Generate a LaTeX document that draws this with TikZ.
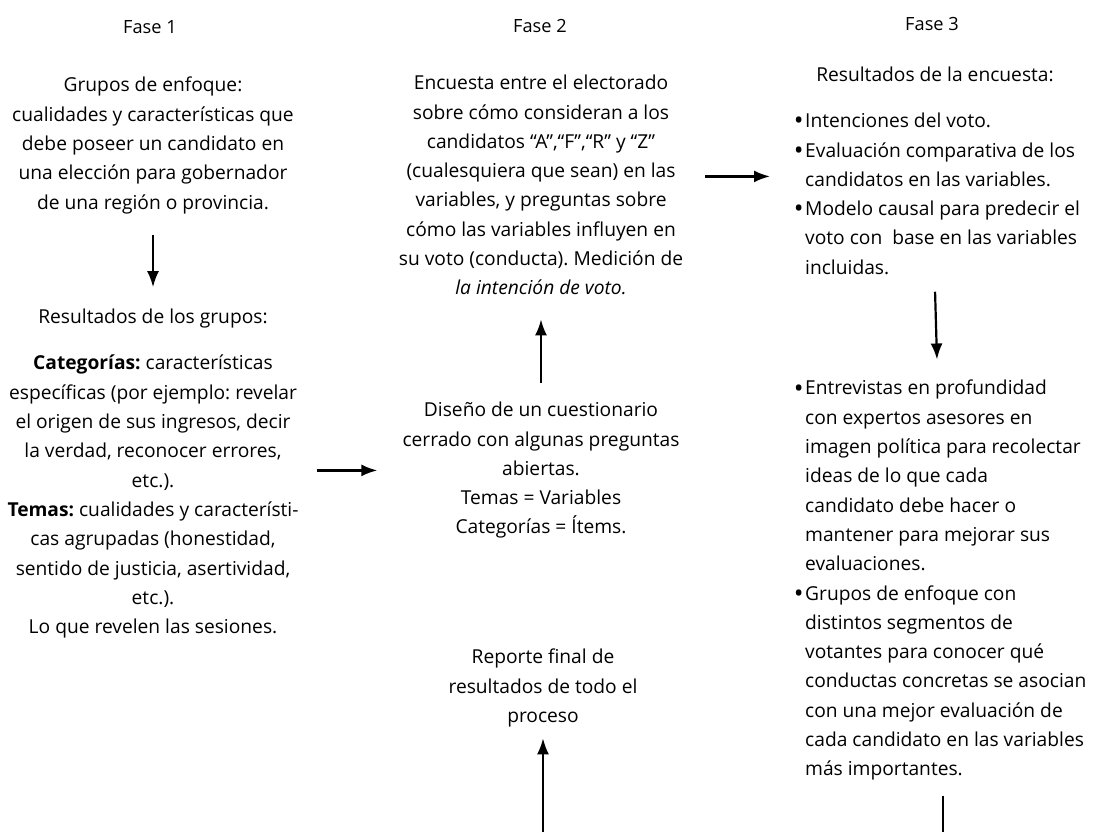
\documentclass[tikz,border=0pt]{standalone}
\usepackage{fontspec}
\setmainfont{Open Sans}
\usetikzlibrary{arrows.meta,calc}
\frenchspacing
\newcommand{\bul}{\llap{\raisebox{-2.2pt}{\fontsize{26}{26}\selectfont •}\hspace{1.5pt}}}
\begin{document}
\begin{tikzpicture}[x=1pt,y=-1pt,
  txt/.style={align=center, inner sep=0pt, anchor=north, font=\fontsize{19.2}{29.3}\selectfont},
  lst/.style={align=left, inner sep=0pt, anchor=north west, font=\fontsize{19.2}{29.3}\selectfont},
  hdr/.style={inner sep=0pt, font=\fontsize{19.2}{22}\selectfont},
  fase/.style={inner sep=0pt, font=\fontsize{18.2}{20}\selectfont},
  arr/.style={line width=2.2pt, -{Latex[length=16pt,width=12pt]}},
  ln/.style={line width=2.2pt}]
\useasboundingbox (0,0) rectangle (1099,832);

% phase labels
\node[fase] (f1) at (150,27) {Fase 1};
\node[fase] (f2) at (540,26) {Fase 2};
\node[fase] (f3) at (932,24) {Fase 3};

% column 1
\node[txt] (A) at (153,77) {Grupos de enfoque:\\cualidades y características que\\debe poseer un candidato en\\una elección para gobernador\\de una región o provincia.};
\node[hdr] (R1) at (153,319) {Resultados de los grupos:};
\node[txt] (B) at (153,355) {\textbf{Categorías:} características\\específicas (por ejemplo: revelar\\el origen de sus ingresos, decir\\la verdad, reconocer errores,\\etc.).\\\textbf{Temas:} cualidades y característi-\\cas agrupadas (honestidad,\\sentido de justicia, asertividad,\\etc.).\\Lo que revelen las sesiones.};

% column 2
\node[txt] (C) at (541,75) {Encuesta entre el electorado\\sobre cómo consideran a los\\candidatos “A”,“F”,“R” y “Z”\\(cualesquiera que sean) en las\\variables, y preguntas sobre\\cómo las variables influyen en\\su voto (conducta). Medición de\\\textit{la intención de voto.}};
\node[txt] (D) at (541,402) {Diseño de un cuestionario\\cerrado con algunas preguntas\\abiertas.\\Temas = Variables\\Categorías = Ítems.};
\node[txt] (E) at (543,649) {Reporte final de\\resultados de todo el\\proceso};
\coordinate (bot2) at (543,832);

% column 3
\node[hdr] (R3) at (935,74) {Resultados de la encuesta:};
\node[lst] (F) at (805,113) {\bul Intenciones del voto.\\\bul Evaluación comparativa de los\\candidatos en las variables.\\\bul Modelo causal para predecir el\\voto con\ \ base en las variables\\incluidas.};
\node[lst] (G) at (805,380) {\bul Entrevistas en profundidad\\con expertos asesores en\\imagen política para recolectar\\ideas de lo que cada\\candidato debe hacer o\\mantener para mejorar sus\\evaluaciones.\\\bul Grupos de enfoque con\\distintos segmentos de\\votantes para conocer qué\\conductas concretas se asocian\\con una mejor evaluación de\\cada candidato en las variables\\más importantes.};
\coordinate (bot3) at (943,832);

% connectors
\draw[arr, shorten <=21pt, shorten >=22pt] (A) -- (R1);
\draw[arr, shorten <=18pt, shorten >=25pt] (B.east |- D.west) -- (D.west);
\draw[arr, shorten <=19.5pt, shorten >=24pt] (D.north) -- (C.south);
\draw[arr, shorten <=22pt, shorten >=35pt] ([yshift=8.75pt]C.east) -- ([yshift=8.75pt]C.east -| F.west);
\draw[arr, shorten <=17pt, shorten >=20.5pt] ([xshift=-8pt]F.south) -- ([xshift=-5pt]F.south |- G.north);
\draw[arr, shorten >=11pt] (bot2) -- (bot2 |- E.south);
\draw[ln, shorten <=15pt] (bot3 |- G.south) -- (bot3);
\end{tikzpicture}
\end{document}
